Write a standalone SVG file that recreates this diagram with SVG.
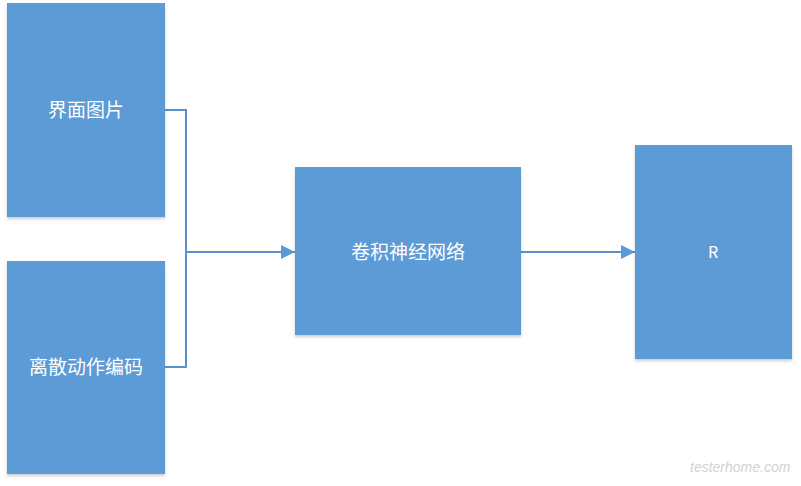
<svg xmlns="http://www.w3.org/2000/svg" width="801" height="486" viewBox="0 0 801 486">
<style>
.box{fill:#5B9BD5;filter:url(#sh)}
.lbl{fill:#FFFFFF;font-family:"Noto Sans CJK SC","Noto Sans",sans-serif;font-size:19px;text-anchor:middle;dominant-baseline:central}
.con{fill:none;stroke:#5B8FC8;stroke-width:2}
.wm{fill:#D2D2D2;font-family:"Liberation Sans",sans-serif;font-size:14px;font-style:italic}
</style>
<defs>
<filter id="sh" x="-5%" y="-5%" width="110%" height="110%">
<feDropShadow dx="0" dy="2" stdDeviation="1.5" flood-color="#000" flood-opacity="0.2"/>
</filter>
<marker id="arr" markerWidth="14" markerHeight="14" refX="14" refY="7" orient="auto" markerUnits="userSpaceOnUse">
<path d="M0,0 L14,7 L0,14 Z" fill="#5B9BD5"/>
</marker>
</defs>
<rect width="801" height="486" fill="#FFFFFF"/>
<g id="connectors">
<polyline class="con" points="165,110 186,110 186,367 165,367"/>
<line class="con" x1="186" y1="252" x2="295" y2="252" marker-end="url(#arr)"/>
<line class="con" x1="521" y1="252" x2="635" y2="252" marker-end="url(#arr)"/>
</g>
<g id="node-ui-image">
<rect class="box" x="7" y="3" width="158" height="214"/>
<text class="lbl" x="86" y="108">界面图片</text>
</g>
<g id="node-action-code">
<rect class="box" x="7" y="261" width="158" height="213"/>
<text class="lbl" x="86" y="365">离散动作编码</text>
</g>
<g id="node-cnn">
<rect class="box" x="295" y="167" width="226" height="168"/>
<text class="lbl" x="408" y="250">卷积神经网络</text>
</g>
<g id="node-r">
<rect class="box" x="635" y="145" width="157" height="214"/>
<text class="lbl" x="713" y="251" style="font-size:16px">R</text>
</g>
<text class="wm" x="690" y="472">testerhome.com</text>
</svg>
